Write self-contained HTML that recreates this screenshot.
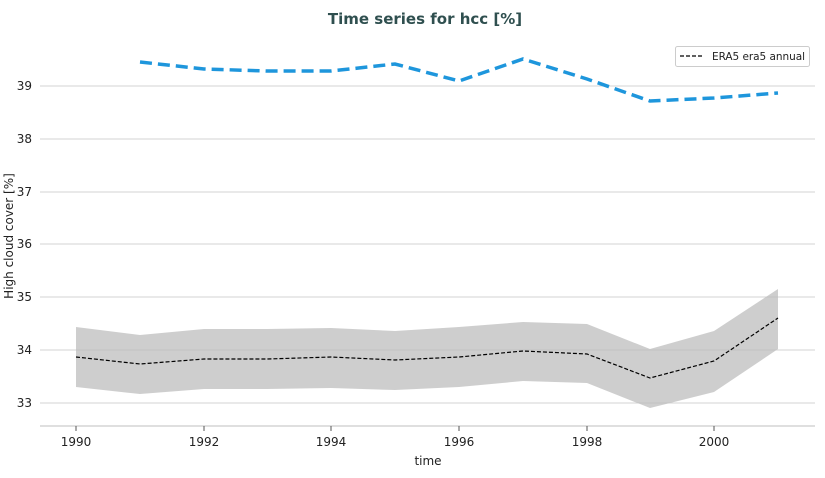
<!DOCTYPE html>
<html><head><style>body{margin:0;background:#fff}svg{display:block;font-family:"DejaVu Sans","Liberation Sans",sans-serif}</style></head><body>
<svg width="825" height="478" viewBox="0 0 825 478">
<rect width="825" height="478" fill="#fff"/>
<text x="425" y="24" text-anchor="middle" font-size="15" font-weight="bold" fill="#2f4f4f">Time series for hcc [%]</text>
<g stroke="#d3d3d3" stroke-width="1">
<line x1="40" y1="403" x2="815" y2="403"/><line x1="40" y1="350" x2="815" y2="350"/><line x1="40" y1="297" x2="815" y2="297"/><line x1="40" y1="244" x2="815" y2="244"/><line x1="40" y1="192" x2="815" y2="192"/><line x1="40" y1="139" x2="815" y2="139"/><line x1="40" y1="86" x2="815" y2="86"/>
</g>
<line x1="40" y1="426" x2="815" y2="426" stroke="#ccc" stroke-width="1.2"/>
<polygon fill="#bdbdbd" fill-opacity="0.75" points="76,327 140,335 204,329 267,329 331,328 395,331 459,327 523,322 587,324 650,349 714,331 778,289 778,349 714,392 650,408 587,383 523,381 459,387 395,390 331,388 267,389 204,389 140,394 76,387"/>
<polyline fill="none" stroke="#000" stroke-width="1.2" stroke-dasharray="4,2" points="76,357 140,364 204,359 267,359 331,357 395,360 459,357 523,351 587,354 650,378 714,361 778,318"/>
<polyline fill="none" stroke="#1e96dc" stroke-width="3.5" stroke-dasharray="12,6" points="140,62 204,69 267,71 331,71 395,64 459,81 523,59 587,79 650,101 714,98 778,93"/>
<g font-size="12" fill="#222" text-anchor="end">
<text x="32" y="407">33</text><text x="32" y="354">34</text><text x="32" y="301">35</text><text x="32" y="248">36</text><text x="32" y="196">37</text><text x="32" y="143">38</text><text x="32" y="90">39</text>
</g>
<g stroke="#555"><line x1="76" y1="426" x2="76" y2="431"/><line x1="204" y1="426" x2="204" y2="431"/><line x1="331" y1="426" x2="331" y2="431"/><line x1="459" y1="426" x2="459" y2="431"/><line x1="587" y1="426" x2="587" y2="431"/><line x1="714" y1="426" x2="714" y2="431"/></g>
<g font-size="12" fill="#222" text-anchor="middle">
<text x="76" y="446">1990</text><text x="204" y="446">1992</text><text x="331" y="446">1994</text><text x="459" y="446">1996</text><text x="587" y="446">1998</text><text x="714" y="446">2000</text>
<text x="428" y="465">time</text>
<text transform="translate(13,236) rotate(-90)">High cloud cover [%]</text>
</g>
<rect x="675.5" y="46.5" width="134" height="20" rx="2" fill="#fff" stroke="#ccc"/>
<line x1="680" y1="56" x2="703" y2="56" stroke="#000" stroke-width="1.2" stroke-dasharray="4,2"/>
<text x="712" y="60" font-size="10.5" fill="#222" textLength="93">ERA5 era5 annual</text>
</svg>
</body></html>
